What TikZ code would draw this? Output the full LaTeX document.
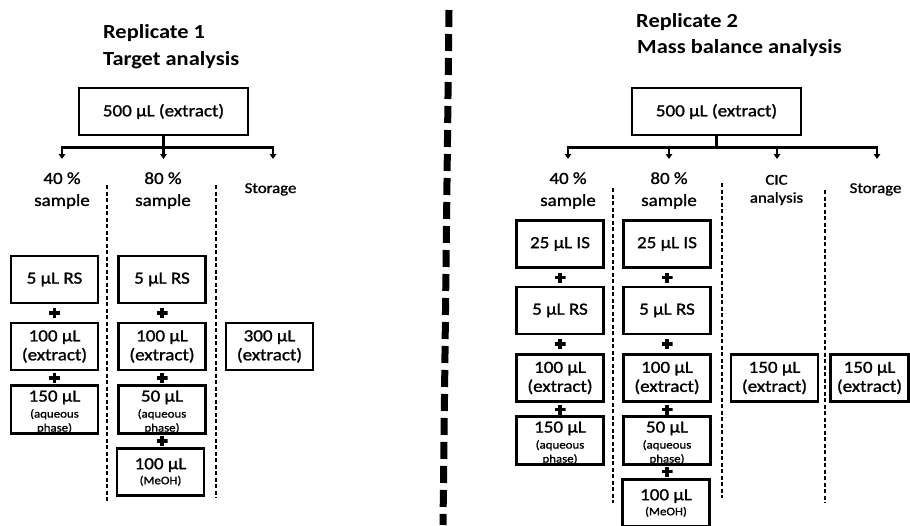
\documentclass[tikz,border=0pt]{standalone}
\usepackage{fontspec}
\setmainfont{Carlito}[FakeStretch=1.12, UprightFeatures={FakeBold=1.2}, BoldFeatures={FakeBold=0}]
\usetikzlibrary{arrows.meta}
\newcommand\smtxt{\fontsize{11.5}{13}\selectfont}
\newcommand\topstrut{\rule{0pt}{16pt}}
\begin{document}
\begin{tikzpicture}[x=1pt,y=-1pt,
  box/.style={draw, line width=2.3pt, minimum width=87pt, minimum height=47pt, inner sep=0pt, align=center, font=\fontsize{17}{19}\selectfont},
  topbox/.style={box, minimum width=169pt},
  lab/.style={align=center, inner sep=0pt, font=\fontsize{17}{22}\selectfont},
  slab/.style={align=center, inner sep=0pt, font=\fontsize{15}{18}\selectfont},
  ttl/.style={anchor=base west, inner sep=0pt, font=\bfseries\fontsize{20}{24}\selectfont},
  conn/.style={line width=2.2pt},
  arr/.style={conn, -{Triangle[width=6.5pt,length=5pt]}},
  sepline/.style={line width=1.7pt, dash pattern=on 4pt off 2.5pt},
  bigsep/.style={line width=7pt, dash pattern=on 17pt off 7pt},
  plus/.style={minimum width=11pt, minimum height=10pt, inner sep=0pt,
    path picture={\draw[line width=3.5pt] (path picture bounding box.west) -- (path picture bounding box.east);
                  \draw[line width=3.5pt] (path picture bounding box.north) -- (path picture bounding box.south);}}
]
\useasboundingbox (0,0) rectangle (910,525);

% big separator
\draw[bigsep] (449,10) -- (443,525);

% ---------------- Replicate 1 ----------------
\node[ttl] (T1a) at (103,38) {Replicate 1};
\node[ttl] (T1b) at (103,65) {Target analysis};
\node[topbox] (L0) at (163.5,111.5) {500 µL (extract)};
\coordinate (Lbar) at (163.5,147.5);
\coordinate (La1) at (62,159);
\coordinate (La2) at (163.5,159);
\coordinate (La3) at (273,159);
\draw[conn] (L0.south) -- (Lbar);
\draw[arr] (Lbar) -| (La1);
\draw[arr] (Lbar) -- (La2);
\draw[arr] (Lbar) -| (La3);
\node[lab] (L1) at (62,190.5) {40 \%\\sample};
\node[lab] (L2) at (163,190.5) {80 \%\\sample};
\node[slab, anchor=base] (L3) at (270.5,193) {Storage};

\draw[sepline] (107,185) -- (107,503);
\draw[sepline] (216,185) -- (216,498);

\node[box] (L1a) at (54.5,279.5) {5 µL RS};
\node[box] (L1b) at (54.5,346.5) {100 µL\\(extract)};
\node[box] (L1c) at (54.5,409.5) {\topstrut150 µL\\[-3pt]\smtxt(aqueous\\[-5pt]\smtxt phase)};
\node[plus] (L1p1) at (54.5,313) {};
\node[plus] (L1p2) at (54.5,378) {};

\node[box] (L2a) at (162,279.5) {5 µL RS};
\node[box] (L2b) at (162,346.5) {100 µL\\(extract)};
\node[box] (L2c) at (162,409.5) {\topstrut50 µL\\[-3pt]\smtxt(aqueous\\[-5pt]\smtxt phase)};
\node[box] (L2d) at (160.5,472) {100 µL\\[-4pt]\smtxt(MeOH)};
\node[plus] (L2p1) at (162,313) {};
\node[plus] (L2p2) at (162,378) {};
\node[plus] (L2p3) at (162,441) {};

\node[box] (L3a) at (269.5,346.5) {300 µL\\(extract)};

% ---------------- Replicate 2 ----------------
\node[ttl] (T2a) at (636,27) {Replicate 2};
\node[ttl] (T2b) at (637,53) {Mass balance analysis};
\node[topbox] (R0) at (716.5,111.5) {500 µL (extract)};
\coordinate (Rbar) at (716.5,147.5);
\coordinate (Ra1) at (568,159);
\coordinate (Ra2) at (669,159);
\coordinate (Ra3) at (777,159);
\coordinate (Ra4) at (877,159);
\draw[conn] (R0.south) -- (Rbar);
\draw[arr] (Rbar) -| (Ra1);
\draw[arr] (Rbar) -| (Ra2);
\draw[arr] (Rbar) -| (Ra3);
\draw[arr] (Rbar) -| (Ra4);
\node[lab] (R1) at (568,190.5) {40 \%\\sample};
\node[lab] (R2) at (669,190.5) {80 \%\\sample};
\node[slab] (R3) at (776.5,190) {CIC\\analysis};
\node[slab, anchor=base] (R4) at (875.5,193) {Storage};

\draw[sepline] (613,188) -- (613,503);
\draw[sepline] (722,183) -- (722,498);
\draw[sepline] (825,190) -- (825,503);

\node[box] (R1a) at (560,244) {25 µL IS};
\node[box] (R1b) at (560,310.5) {5 µL RS};
\node[box] (R1c) at (560,378) {100 µL\\(extract)};
\node[box] (R1d) at (560,440.5) {\topstrut150 µL\\[-3pt]\smtxt(aqueous\\[-5pt]\smtxt phase)};
\node[plus] (R1p1) at (560,277.5) {};
\node[plus] (R1p2) at (560,344) {};
\node[plus] (R1p3) at (560,409.5) {};

\node[box] (R2a) at (667,244) {25 µL IS};
\node[box] (R2b) at (667,310.5) {5 µL RS};
\node[box] (R2c) at (667,378) {100 µL\\(extract)};
\node[box] (R2d) at (667,440.5) {\topstrut50 µL\\[-3pt]\smtxt(aqueous\\[-5pt]\smtxt phase)};
\node[box] (R2e) at (666,503) {100 µL\\[-4pt]\smtxt(MeOH)};
\node[plus] (R2p1) at (667,277.5) {};
\node[plus] (R2p2) at (667,344) {};
\node[plus] (R2p3) at (667,409.5) {};
\node[plus] (R2p4) at (667,471.5) {};

\node[box] (R3a) at (774.5,378) {150 µL\\(extract)};
\node[box, minimum width=78pt] (R4a) at (869.5,378) {150 µL\\(extract)};
\end{tikzpicture}
\end{document}
